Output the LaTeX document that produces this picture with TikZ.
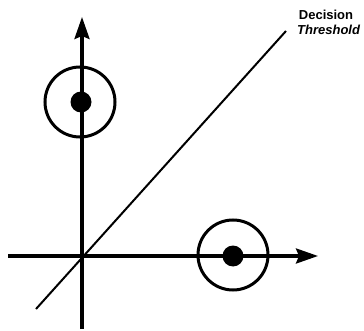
\documentclass[tikz,border=0pt]{standalone}
\usepackage{fontspec}
\setmainfont{Liberation Sans}
\usetikzlibrary{arrows.meta}
\tikzset{
  axis/.style={line width=3.2pt,-{Stealth[length=22pt,width=15pt,inset=3pt]}},
  ring/.style={circle,draw,line width=3pt,minimum size=70pt,inner sep=0pt},
  blob/.style={circle,fill,minimum size=21pt,inner sep=0pt},
  thresh/.style={line width=2pt},
  lbl/.style={font=\fontsize{13}{15}\selectfont\bfseries,inner sep=0pt}
}
\begin{document}
\begin{tikzpicture}[x=1pt,y=-1pt]
\useasboundingbox (0,0) rectangle (364,331);
\coordinate (xs) at (8,256);
\coordinate (xe) at (318,256);
\coordinate (ys) at (82,329);
\coordinate (ye) at (82,17);
\coordinate (ts) at (36,309);
\coordinate (te) at (286,31);
\draw[thresh] (ts) -- (te);
\draw[axis] (xs) -- (xe);
\draw[axis] (ys) -- (ye);
\node[ring] (c1) at (80,102) {};
\node[blob] (d1) at (81,102) {};
\node[ring] (c2) at (233,255) {};
\node[blob] (d2) at (233,256) {};
\node[lbl,anchor=base] (l1) at (326,20) {Decision};
\node[lbl,anchor=base west] (l2) at (297,35) {\itshape Threshold};
\end{tikzpicture}
\end{document}
